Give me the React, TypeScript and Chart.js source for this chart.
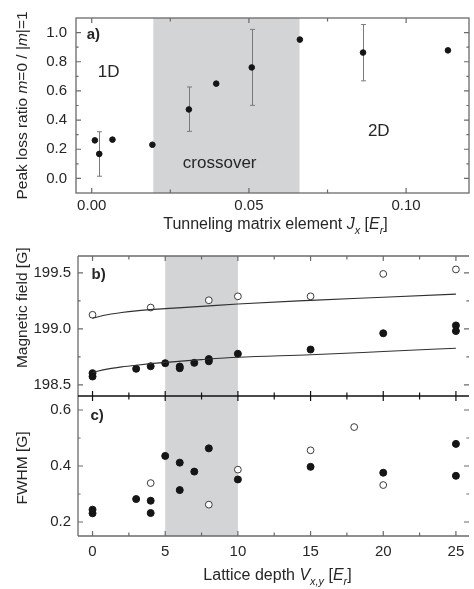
import { useEffect, useRef } from 'react';
import { Chart, registerables } from 'chart.js';

Chart.register(...registerables);

// ---------------- Panel a ----------------
const tunnelingJx = [0.001, 0.0024, 0.0066, 0.0193, 0.0309, 0.0396, 0.0509, 0.0662, 0.0863, 0.1133];
const peakRatio = [0.261, 0.168, 0.266, 0.231, 0.473, 0.65, 0.761, 0.952, 0.863, 0.878];
const peakRatioErrLow = [null, 0.015, null, null, 0.323, null, 0.501, null, 0.669, null];
const peakRatioErrHigh = [null, 0.32, null, null, 0.627, null, 1.022, null, 1.055, null];
const crossoverJx = [0.0196, 0.0661];

const xTicksA = [0, 0.05, 0.1];
const xMinorA = [0.025, 0.075];
const yTicksA = [0, 0.2, 0.4, 0.6, 0.8, 1.0];
const yMinorA = [0.1, 0.3, 0.5, 0.7, 0.9];

// ---------------- Panel b ----------------
const depthFilledB = [0, 0, 3, 4, 5, 6, 6, 7, 8, 8, 10, 15, 20, 25, 25];
const fieldFilled = [198.604, 198.574, 198.643, 198.666, 198.693, 198.663, 198.648, 198.696, 198.73, 198.71, 198.777, 198.815, 198.96, 199.03, 198.98];
const depthOpenB = [0, 4, 8, 10, 15, 20, 25];
const fieldOpen = [199.125, 199.19, 199.255, 199.29, 199.29, 199.49, 199.53];
const fitDepth = [0, 1, 2, 3, 5, 7.5, 10, 15, 20, 25];
const fitOpen = [199.095, 199.125, 199.145, 199.16, 199.18, 199.2, 199.222, 199.254, 199.282, 199.31];
const fitFilled = [198.61, 198.64, 198.66, 198.675, 198.7, 198.725, 198.746, 198.768, 198.797, 198.827];

// ---------------- Panel c ----------------
const depthFilledC = [0, 0, 3, 4, 4, 5, 6, 6, 7, 8, 10, 15, 20, 25, 25];
const fwhmFilled = [0.244, 0.231, 0.282, 0.276, 0.232, 0.436, 0.412, 0.314, 0.38, 0.463, 0.352, 0.397, 0.376, 0.479, 0.365];
const depthOpenC = [4, 8, 10, 15, 18, 20];
const fwhmOpen = [0.339, 0.262, 0.387, 0.456, 0.539, 0.332];
const crossoverDepth = [5, 10];

const xTicksBC = [0, 5, 10, 15, 20, 25];
const xMinorBC = [2.5, 7.5, 12.5, 17.5, 22.5];
const yTicksB = [198.5, 199.0, 199.5];
const yMinorB = [198.75, 199.25];
const yTicksC = [0.2, 0.4, 0.6];
const yMinorC = [0.3, 0.5];

// ---------------- styles ----------------
const FONT = '"Liberation Sans", Arial, Helvetica, sans-serif';
const TEXT = '#262626';
const FRAME = '#6a6a6a';
const SHADE = '#d3d4d6';
const ERR = '#7a7a7a';
const DOT = '#151515';

type Seg = { t: string; it?: boolean; sub?: boolean };

function segFont(s: Seg, size: number, bold = false) {
  return `${s.it ? 'italic ' : ''}${bold ? 'bold ' : ''}${s.sub ? size * 0.68 : size}px ${FONT}`;
}

function drawRich(ctx: CanvasRenderingContext2D, segs: Seg[], cx: number, cy: number, size: number, rotated: boolean) {
  ctx.save();
  ctx.translate(cx, cy);
  if (rotated) ctx.rotate(-Math.PI / 2);
  let total = 0;
  const widths = segs.map((s) => {
    ctx.font = segFont(s, size);
    const w = ctx.measureText(s.t).width;
    total += w;
    return w;
  });
  let x = -total / 2;
  ctx.fillStyle = TEXT;
  ctx.textBaseline = 'alphabetic';
  ctx.textAlign = 'left';
  segs.forEach((s, i) => {
    ctx.font = segFont(s, size);
    ctx.fillText(s.t, x, s.sub ? size * 0.3 : 0);
    x += widths[i];
  });
  ctx.restore();
}

function drawLabel(ctx: CanvasRenderingContext2D, text: string, x: number, y: number, size: number, align: CanvasTextAlign, bold = false) {
  ctx.save();
  ctx.font = `${bold ? 'bold ' : ''}${size}px ${FONT}`;
  ctx.fillStyle = TEXT;
  ctx.textAlign = align;
  ctx.textBaseline = 'alphabetic';
  ctx.fillText(text, x, y);
  ctx.restore();
}

function tickMarks(
  ctx: CanvasRenderingContext2D,
  scale: any,
  values: number[],
  side: 'top' | 'bottom' | 'left' | 'right',
  edge: number,
  len: number,
  color: string,
) {
  ctx.save();
  ctx.strokeStyle = color;
  ctx.lineWidth = 1.2;
  ctx.beginPath();
  values.forEach((v) => {
    const p = scale.getPixelForValue(v);
    if (side === 'top') { ctx.moveTo(p, edge); ctx.lineTo(p, edge + len); }
    if (side === 'bottom') { ctx.moveTo(p, edge); ctx.lineTo(p, edge - len); }
    if (side === 'left') { ctx.moveTo(edge, p); ctx.lineTo(edge + len, p); }
    if (side === 'right') { ctx.moveTo(edge, p); ctx.lineTo(edge - len, p); }
  });
  ctx.stroke();
  ctx.restore();
}

function line(ctx: CanvasRenderingContext2D, x0: number, y0: number, x1: number, y1: number, color: string, w: number) {
  ctx.save();
  ctx.strokeStyle = color;
  ctx.lineWidth = w;
  ctx.beginPath();
  ctx.moveTo(x0, y0);
  ctx.lineTo(x1, y1);
  ctx.stroke();
  ctx.restore();
}

const MAJOR = 5;
const MINOR = 2.6;

const panelAPlugin = {
  id: 'panelA',
  beforeDatasetsDraw(chart: any) {
    const { ctx, chartArea: a, scales } = chart;
    const x = scales.x;
    const y = scales.y;
    ctx.save();
    ctx.fillStyle = SHADE;
    const x0 = x.getPixelForValue(crossoverJx[0]);
    const x1 = x.getPixelForValue(crossoverJx[1]);
    ctx.fillRect(x0, a.top, x1 - x0, a.bottom - a.top);
    ctx.strokeStyle = ERR;
    ctx.lineWidth = 1;
    ctx.beginPath();
    tunnelingJx.forEach((jx, i) => {
      const lo = peakRatioErrLow[i];
      const hi = peakRatioErrHigh[i];
      if (lo == null || hi == null) return;
      const px = Math.round(x.getPixelForValue(jx)) + 0.5;
      const pl = y.getPixelForValue(lo);
      const ph = y.getPixelForValue(hi);
      ctx.moveTo(px, pl); ctx.lineTo(px, ph);
      ctx.moveTo(px - 2.5, pl); ctx.lineTo(px + 2.5, pl);
      ctx.moveTo(px - 2.5, ph); ctx.lineTo(px + 2.5, ph);
    });
    ctx.stroke();
    ctx.restore();
  },
  afterDatasetsDraw(chart: any) {
    const { ctx, chartArea: a, scales } = chart;
    const x = scales.x;
    const y = scales.y;
    ctx.save();
    ctx.strokeStyle = FRAME;
    ctx.lineWidth = 1.3;
    ctx.strokeRect(a.left, a.top, a.right - a.left, a.bottom - a.top);
    ctx.restore();
    tickMarks(ctx, x, xTicksA, 'top', a.top, MAJOR, FRAME);
    tickMarks(ctx, x, xMinorA, 'top', a.top, MINOR + 1, FRAME);
    tickMarks(ctx, x, xTicksA, 'bottom', a.bottom, MAJOR, FRAME);
    tickMarks(ctx, x, xMinorA, 'bottom', a.bottom, MINOR + 1, FRAME);
    tickMarks(ctx, y, yTicksA, 'left', a.left, MAJOR, FRAME);
    tickMarks(ctx, y, yMinorA, 'left', a.left, MINOR, FRAME);
    tickMarks(ctx, y, yTicksA, 'right', a.right, MAJOR, FRAME);
    tickMarks(ctx, y, yMinorA, 'right', a.right, MINOR, FRAME);

    drawLabel(ctx, 'a)', x.getPixelForValue(-0.0016), y.getPixelForValue(0.954), 15, 'left', true);
    drawLabel(ctx, '1D', x.getPixelForValue(0.0054), y.getPixelForValue(0.693), 17, 'center');
    drawLabel(ctx, '2D', x.getPixelForValue(0.0913), y.getPixelForValue(0.29), 17, 'center');
    drawLabel(ctx, 'crossover', x.getPixelForValue(0.0407), y.getPixelForValue(0.072), 17, 'center');

    drawRich(ctx, [
      { t: 'Peak loss ratio ' }, { t: 'm', it: true }, { t: '=0 / |' }, { t: 'm', it: true }, { t: '|=1' },
    ], 26.5, (a.top + a.bottom) / 2, 15.5, true);
    drawRich(ctx, [
      { t: 'Tunneling matrix element ' }, { t: 'J', it: true }, { t: 'x', it: true, sub: true },
      { t: ' [' }, { t: 'E', it: true }, { t: 'r', it: true, sub: true }, { t: ']' },
    ], (a.left + a.right) / 2 + 3, 229, 16, false);
  },
};

const panelBCPlugin = {
  id: 'panelBC',
  beforeDatasetsDraw(chart: any) {
    const { ctx, chartArea: a, scales } = chart;
    const x = scales.x;
    ctx.save();
    ctx.fillStyle = SHADE;
    const x0 = x.getPixelForValue(crossoverDepth[0]);
    const x1 = x.getPixelForValue(crossoverDepth[1]);
    ctx.fillRect(x0, a.top, x1 - x0, a.bottom - a.top);
    ctx.restore();
  },
  afterDatasetsDraw(chart: any) {
    const { ctx, chartArea: a, scales } = chart;
    const x = scales.x;
    const yb = scales.yb;
    const yc = scales.yc;
    const mid = yb.bottom;
    // frame
    line(ctx, a.left, a.top, a.right, a.top, FRAME, 1.3);
    line(ctx, a.left, a.bottom, a.right, a.bottom, FRAME, 1.6);
    line(ctx, a.left, a.top, a.left, a.bottom, FRAME, 1.3);
    line(ctx, a.left, mid, a.right, mid, '#111111', 1.7);
    // x ticks
    tickMarks(ctx, x, xTicksBC, 'top', a.top, MAJOR, FRAME);
    tickMarks(ctx, x, xMinorBC, 'top', a.top, MINOR + 1, FRAME);
    tickMarks(ctx, x, xTicksBC, 'bottom', mid, MAJOR, '#111111');
    tickMarks(ctx, x, xMinorBC, 'bottom', mid, MINOR + 1, '#111111');
    tickMarks(ctx, x, xTicksBC, 'top', mid, MAJOR, '#111111');
    tickMarks(ctx, x, xMinorBC, 'top', mid, MINOR + 1, '#111111');
    tickMarks(ctx, x, xTicksBC, 'bottom', a.bottom, MAJOR, FRAME);
    tickMarks(ctx, x, xMinorBC, 'bottom', a.bottom, MINOR + 1, FRAME);
    // y ticks
    tickMarks(ctx, yb, yTicksB, 'left', a.left, MAJOR, FRAME);
    tickMarks(ctx, yb, yMinorB, 'left', a.left, MINOR, FRAME);
    tickMarks(ctx, yb, yTicksB, 'right', a.right, MAJOR, FRAME);
    tickMarks(ctx, yb, yMinorB, 'right', a.right, MINOR, FRAME);
    tickMarks(ctx, yc, yTicksC, 'left', a.left, MAJOR, FRAME);
    tickMarks(ctx, yc, yMinorC, 'left', a.left, MINOR, FRAME);
    tickMarks(ctx, yc, yTicksC, 'right', a.right, MAJOR, FRAME);
    tickMarks(ctx, yc, yMinorC, 'right', a.right, MINOR, FRAME);

    drawLabel(ctx, 'b)', x.getPixelForValue(-0.07), yb.getPixelForValue(199.446), 15, 'left', true);
    drawLabel(ctx, 'c)', x.getPixelForValue(-0.14), yc.getPixelForValue(0.563), 15, 'left', true);

    drawRich(ctx, [{ t: 'Magnetic field [G]' }], 26.5, yb.top + (yb.bottom - yb.top) * 0.37, 15.5, true);
    drawRich(ctx, [{ t: 'FWHM [G]' }], 26.5, (yc.top + yc.bottom) / 2 + 2, 15.5, true);
    drawRich(ctx, [
      { t: 'Lattice depth ' }, { t: 'V', it: true }, { t: 'x,y', it: true, sub: true },
      { t: ' [' }, { t: 'E', it: true }, { t: 'r', it: true, sub: true }, { t: ']' },
    ], (a.left + a.right) / 2 + 4, 340, 16, false);
  },
};

const tickFont = { family: FONT, size: 15 };

function pts(xs: number[], ys: number[]) {
  return xs.map((v, i) => ({ x: v, y: ys[i] }));
}

export default function App() {
  const refA = useRef<HTMLCanvasElement>(null);
  const refBC = useRef<HTMLCanvasElement>(null);

  useEffect(() => {
    const chartA = new Chart(refA.current as HTMLCanvasElement, {
      type: 'scatter',
      data: {
        datasets: [
          {
            data: pts(tunnelingJx, peakRatio),
            backgroundColor: DOT,
            borderColor: DOT,
            borderWidth: 1,
            pointRadius: 2.8,
          },
        ],
      },
      options: {
        animation: false,
        responsive: false,
        devicePixelRatio: 1,
        layout: { padding: { top: 9, right: 1, left: 0, bottom: 0 } },
        plugins: { legend: { display: false }, tooltip: { enabled: false } },
        scales: {
          x: {
            type: 'linear',
            min: -0.005,
            max: 0.12,
            afterBuildTicks: (s: any) => { s.ticks = xTicksA.map((v) => ({ value: v })); },
            afterFit: (s: any) => { s.height = 47; },
            ticks: { font: tickFont, color: TEXT, padding: 4, maxRotation: 0, autoSkip: false, callback: (v: any) => Number(v).toFixed(2) },
            grid: { display: false, drawTicks: false },
            border: { display: false },
          },
          y: {
            type: 'linear',
            min: -0.1,
            max: 1.1,
            afterBuildTicks: (s: any) => { s.ticks = yTicksA.map((v) => ({ value: v })); },
            afterFit: (s: any) => { s.width = 76; },
            ticks: { font: tickFont, color: TEXT, padding: 9, autoSkip: false, callback: (v: any) => Number(v).toFixed(1) },
            grid: { display: false, drawTicks: false },
            border: { display: false },
          },
        },
      },
      plugins: [panelAPlugin],
    } as any);

    const chartBC = new Chart(refBC.current as HTMLCanvasElement, {
      type: 'scatter',
      data: {
        datasets: [
          {
            data: pts(fitDepth, fitOpen),
            yAxisID: 'yb',
            showLine: true,
            borderColor: '#303030',
            borderWidth: 1.1,
            pointRadius: 0,
            cubicInterpolationMode: 'monotone',
            fill: false,
          },
          {
            data: pts(fitDepth, fitFilled),
            yAxisID: 'yb',
            showLine: true,
            borderColor: '#303030',
            borderWidth: 1.1,
            pointRadius: 0,
            cubicInterpolationMode: 'monotone',
            fill: false,
          },
          {
            data: pts(depthOpenB, fieldOpen),
            yAxisID: 'yb',
            backgroundColor: '#ffffff',
            borderColor: '#3a3a3a',
            borderWidth: 1,
            pointRadius: 3.4,
          },
          {
            data: pts(depthFilledB, fieldFilled),
            yAxisID: 'yb',
            backgroundColor: DOT,
            borderColor: DOT,
            borderWidth: 1,
            pointRadius: 3.5,
          },
          {
            data: pts(depthOpenC, fwhmOpen),
            yAxisID: 'yc',
            backgroundColor: '#ffffff',
            borderColor: '#3a3a3a',
            borderWidth: 1,
            pointRadius: 3.4,
          },
          {
            data: pts(depthFilledC, fwhmFilled),
            yAxisID: 'yc',
            backgroundColor: DOT,
            borderColor: DOT,
            borderWidth: 1,
            pointRadius: 3.5,
          },
        ],
      },
      options: {
        animation: false,
        responsive: false,
        devicePixelRatio: 1,
        layout: { padding: { top: 15, right: 0, left: 0, bottom: 0 } },
        plugins: { legend: { display: false }, tooltip: { enabled: false } },
        scales: {
          x: {
            type: 'linear',
            min: -1,
            max: 25.9,
            afterBuildTicks: (s: any) => { s.ticks = xTicksBC.map((v) => ({ value: v })); },
            afterFit: (s: any) => { s.height = 53; },
            ticks: { font: tickFont, color: TEXT, padding: 7, maxRotation: 0, autoSkip: false, callback: (v: any) => String(v) },
            grid: { display: false, drawTicks: false },
            border: { display: false },
          },
          yc: {
            type: 'linear',
            position: 'left',
            stack: 'bc',
            stackWeight: 1,
            min: 0.15,
            max: 0.65,
            afterBuildTicks: (s: any) => { s.ticks = yTicksC.map((v) => ({ value: v })); },
            afterFit: (s: any) => { s.width = 78; },
            ticks: { font: tickFont, color: TEXT, padding: 7, autoSkip: false, callback: (v: any) => Number(v).toFixed(1) },
            grid: { display: false, drawTicks: false },
            border: { display: false },
          },
          yb: {
            type: 'linear',
            position: 'left',
            stack: 'bc',
            stackWeight: 1,
            min: 198.4,
            max: 199.65,
            afterBuildTicks: (s: any) => { s.ticks = yTicksB.map((v) => ({ value: v })); },
            afterFit: (s: any) => { s.width = 78; },
            ticks: { font: tickFont, color: TEXT, padding: 7, autoSkip: false, callback: (v: any) => Number(v).toFixed(1) },
            grid: { display: false, drawTicks: false },
            border: { display: false },
          },
        },
      },
      plugins: [panelBCPlugin],
    } as any);

    return () => {
      chartA.destroy();
      chartBC.destroy();
    };
  }, []);

  return (
    <div style={{ position: 'absolute', left: 0, top: 0, width: 474, height: 589, background: '#ffffff' }}>
      <canvas ref={refA} width={474} height={240} style={{ position: 'absolute', left: 0, top: 0, width: 474, height: 240 }} />
      <canvas ref={refBC} width={474} height={349} style={{ position: 'absolute', left: 0, top: 240, width: 474, height: 349 }} />
    </div>
  );
}
